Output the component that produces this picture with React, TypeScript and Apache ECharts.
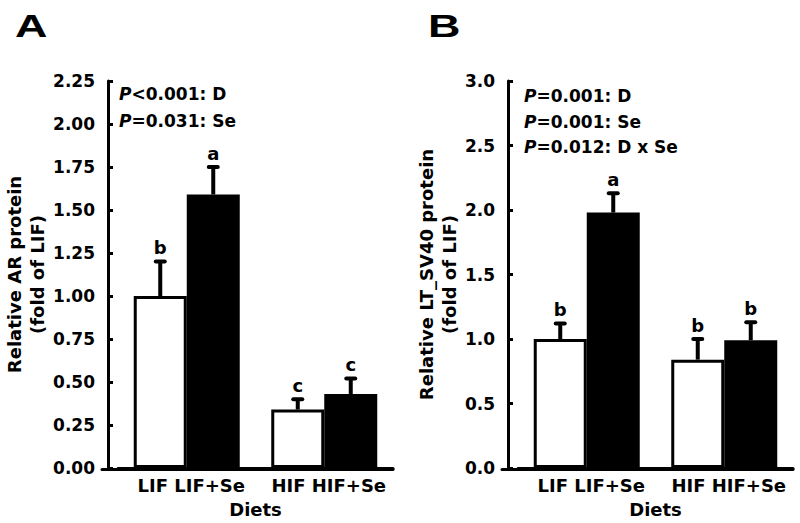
import React, { useEffect, useRef } from "react";
import * as echarts from "echarts";

// ---------- data ----------
const diets = ["LIF", "HIF"];
const dietsSe = ["LIF+Se", "HIF+Se"];

// Panel A: Relative AR protein
const arNoSe = [1.0, 0.34];
const arSe = [1.59, 0.43];
const arNoSeErr = [0.2, 0.06];
const arSeErr = [0.16, 0.09];
const arNoSeLetters = ["b", "c"];
const arSeLetters = ["a", "c"];
const arStats = [
  ["<0.001: D"],
  ["=0.031: Se"],
];

// Panel B: Relative LT_SV40 protein
const ltNoSe = [1.0, 0.84];
const ltSe = [1.98, 0.99];
const ltNoSeErr = [0.12, 0.16];
const ltSeErr = [0.15, 0.14];
const ltNoSeLetters = ["b", "b"];
const ltSeLetters = ["a", "b"];
const ltStats = [
  ["=0.001: D"],
  ["=0.001: Se"],
  ["=0.012: D x Se"],
];

const FONT = "DejaVu Sans";
const BAR_W = 53;

function errSeries(
  gridIdx: number,
  side: number,
  vals: number[],
  errs: number[],
  letters: string[]
) {
  return {
    type: "custom",
    xAxisIndex: gridIdx * 2,
    yAxisIndex: gridIdx * 2,
    z: 5,
    data: vals.map((v, i) => [i, v, errs[i]]),
    renderItem: (params: any, api: any) => {
      const idx = api.value(0);
      const v = api.value(1);
      const e = api.value(2);
      const base = api.coord([idx, v]);
      const top = api.coord([idx, v + e]);
      const x = base[0] + (side * BAR_W) / 2;
      return {
        type: "group",
        children: [
          {
            type: "line",
            shape: { x1: x, y1: base[1], x2: x, y2: top[1] },
            style: { stroke: "#000", lineWidth: 4 },
          },
          {
            type: "line",
            shape: { x1: x - 4.5, y1: top[1], x2: x + 4.5, y2: top[1] },
            style: { stroke: "#000", lineWidth: 4, lineCap: "round" },
          },
          {
            type: "text",
            x: x,
            y: top[1] - 5,
            style: {
              text: letters[params.dataIndex],
              align: "center",
              verticalAlign: "bottom",
              fontFamily: FONT,
              fontWeight: "bold",
              fontSize: 18,
              fill: "#000",
            },
          },
        ],
      };
    },
  };
}

function panel(
  gridIdx: number,
  left: number,
  yMax: number,
  yInterval: number,
  decimals: number,
  yName: string,
  nameGap: number,
  noSe: number[],
  se: number[],
  noSeErr: number[],
  seErr: number[],
  noSeL: string[],
  seL: string[]
) {
  const top = 81;
  const bottom = 53.5;
  const grids = [
    { left: left, width: 275, top, bottom },
    { left: left - 16, width: 291, top, bottom },
  ];
  const xAxes = [
    {
      type: "category",
      gridIndex: gridIdx * 2,
      data: diets,
      axisLine: { show: true, lineStyle: { color: "#000", width: 3 } },
      axisTick: { show: false },
      axisLabel: {
        interval: 0,
        formatter: (v: string, i: number) => v + " " + dietsSe[i],
        fontFamily: FONT,
        fontWeight: "bold",
        fontSize: 18,
        color: "#000",
        margin: 8,
        padding: [0, 0, 0, 9],
      },
      name: "Diets",
      nameLocation: "middle",
      nameGap: 32,
      nameTextStyle: {
        fontFamily: FONT,
        fontWeight: "bold",
        fontSize: 18,
        color: "#000",
      },
    },
    {
      type: "value",
      gridIndex: gridIdx * 2 + 1,
      min: 0,
      max: 1,
      position: "bottom",
      axisLine: {
        show: true,
        onZero: false,
        lineStyle: { color: "#000", width: 3 },
      },
      axisTick: { show: false },
      axisLabel: { show: false },
      splitLine: { show: false },
    },
  ];
  const yAxes = [
    {
      type: "value",
      gridIndex: gridIdx * 2,
      min: 0,
      max: yMax,
      interval: yInterval,
      offset: 10,
      axisLine: { show: true, lineStyle: { color: "#000", width: 3 } },
      axisTick: {
        show: true,
        inside: true,
        length: 5,
        lineStyle: { color: "#000", width: 3 },
      },
      splitLine: { show: false },
      axisLabel: {
        formatter: (v: number) => v.toFixed(decimals),
        fontFamily: FONT,
        fontWeight: "bold",
        fontSize: 17,
        color: "#000",
        margin: 13,
      },
      name: yName,
      nameLocation: "middle",
      nameRotate: 90,
      nameGap: nameGap,
      nameTextStyle: {
        fontFamily: FONT,
        fontWeight: "bold",
        fontSize: 18,
        lineHeight: 23,
        color: "#000",
      },
    },
    {
      type: "value",
      gridIndex: gridIdx * 2 + 1,
      min: 0,
      max: 1,
      axisLine: { show: false },
      axisTick: { show: false },
      axisLabel: { show: false },
      splitLine: { show: false },
    },
  ];
  const series = [
    {
      type: "bar",
      xAxisIndex: gridIdx * 2,
      yAxisIndex: gridIdx * 2,
      data: noSe,
      barWidth: BAR_W,
      barGap: "0%",
      itemStyle: { color: "#fff", borderColor: "#000", borderWidth: 3 },
    },
    {
      type: "bar",
      xAxisIndex: gridIdx * 2,
      yAxisIndex: gridIdx * 2,
      data: se,
      barWidth: BAR_W,
      barGap: "0%",
      itemStyle: { color: "#000", borderColor: "#000", borderWidth: 3 },
    },
    errSeries(gridIdx, -1, noSe, noSeErr, noSeL),
    errSeries(gridIdx, 1, se, seErr, seL),
    {
      type: "line",
      xAxisIndex: gridIdx * 2 + 1,
      yAxisIndex: gridIdx * 2 + 1,
      data: [],
      silent: true,
      showSymbol: false,
    },
  ];
  return { grids, xAxes, yAxes, series };
}

function statTexts(lines: string[][], x: number, y0: number, step: number) {
  return lines.map((l, i) => ({
    type: "text",
    x: x,
    y: y0 + i * step,
    style: {
      text: "{i|P}" + l[0],
      align: "left",
      verticalAlign: "middle",
      fontFamily: FONT,
      fontWeight: "bold",
      fontSize: 17,
      fill: "#000",
      rich: {
        i: {
          fontFamily: FONT,
          fontWeight: "bold",
          fontStyle: "italic",
          fontSize: 17,
          fill: "#000",
        },
      },
    },
  }));
}

export default function App() {
  const ref = useRef<HTMLDivElement>(null);
  useEffect(() => {
    if (!ref.current) return;
    const chart = echarts.init(ref.current, undefined, { renderer: "svg" });
    const a = panel(
      0, 118, 2.25, 0.25, 2,
      "Relative AR protein\n(fold of LIF)", 58,
      arNoSe, arSe, arNoSeErr, arSeErr, arNoSeLetters, arSeLetters
    );
    const b = panel(
      1, 518, 3.0, 0.5, 1,
      "Relative LT_SV40 protein\n(fold of LIF)", 47,
      ltNoSe, ltSe, ltNoSeErr, ltSeErr, ltNoSeLetters, ltSeLetters
    );
    const letterStyle = {
      fontFamily: "Liberation Sans",
      fontWeight: "bold",
      fontSize: 31,
      fill: "#000",
      align: "left",
      verticalAlign: "top",
    };
    chart.setOption({
      animation: false,
      backgroundColor: "#fff",
      grid: [...a.grids, ...b.grids],
      xAxis: [...a.xAxes, ...b.xAxes],
      yAxis: [...a.yAxes, ...b.yAxes],
      series: [...a.series, ...b.series],
      graphic: [
        { type: "text", x: 15, y: 11, scaleX: 1.45, style: { ...letterStyle, text: "A" } },
        { type: "text", x: 428, y: 11, scaleX: 1.45, style: { ...letterStyle, text: "B" } },
        ...statTexts(arStats, 119, 94, 27),
        ...statTexts(ltStats, 524, 96, 25.5),
      ],
    });
    return () => chart.dispose();
  }, []);
  return (
    <div
      ref={ref}
      style={{ position: "absolute", left: 0, top: 0, width: 800, height: 523 }}
    />
  );
}
